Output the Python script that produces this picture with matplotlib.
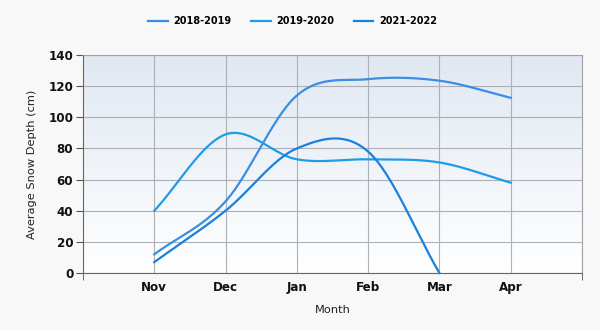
import numpy as np
import matplotlib
matplotlib.use('Agg')
import matplotlib.pyplot as plt
from matplotlib.colors import LinearSegmentedColormap

months = ['Nov', 'Dec', 'Jan', 'Feb', 'Mar', 'Apr']
seasons = ['2018-2019', '2019-2020', '2021-2022']
depth_1819 = [12, 46, 114, 124.5, 123.5, 112.5]
depth_1920 = [40, 89, 73, 73, 71, 58]
depth_2122 = [7, 40, 80, 78, 0, None]
colors = ['#3a8ee3', '#1e9de6', '#1a80dc']


def spline(xs, ys, n=40):
    """ catmull-rom through the points, returns dense x, y """
    pts = [(x, y) for x, y in zip(xs, ys) if y is not None]
    px = np.array([p[0] for p in pts], dtype=float)
    py = np.array([p[1] for p in pts], dtype=float)
    out_x, out_y = [], []
    for i in range(len(px) - 1):
        y0 = py[i - 1] if i > 0 else py[i]
        y3 = py[i + 2] if i + 2 < len(py) else py[i + 1]
        y1, y2 = py[i], py[i + 1]
        m1 = (y2 - y0) / 2 if i > 0 else (y2 - y1)
        m2 = (y3 - y1) / 2 if i + 2 < len(py) else (y2 - y1)
        t = np.linspace(0, 1, n)
        h00 = 2 * t**3 - 3 * t**2 + 1
        h10 = t**3 - 2 * t**2 + t
        h01 = -2 * t**3 + 3 * t**2
        h11 = t**3 - t**2
        out_x.extend(px[i] + t * (px[i + 1] - px[i]))
        out_y.extend(h00 * y1 + h10 * m1 + h01 * y2 + h11 * m2)
    return np.array(out_x), np.array(out_y)


fig = plt.figure(figsize=(6, 3.3), dpi=100, facecolor='#f8f8f8')
ax = fig.add_axes([0.1383, 0.1727, 0.8317, 0.6606])

# gradient background
cmap = LinearSegmentedColormap.from_list('bg', ['#ffffff', '#e0e8f2'])
grad = np.linspace(0, 1, 256).reshape(-1, 1)
ax.imshow(grad, aspect='auto', cmap=cmap, origin='lower',
          extent=[0, 1, 0, 1], transform=ax.transAxes, zorder=0)

x = np.arange(len(months))
for name, vals, cl in zip(seasons, [depth_1819, depth_1920, depth_2122], colors):
    sx, sy = spline(x, vals)
    ax.plot(sx, sy, color=cl, linewidth=1.6, label=name, zorder=3, clip_on=False)

ax.set_xlim(-1, 6)
ax.set_ylim(0, 140)
ax.set_xticks(x)
ax.set_xticklabels(months)
ax.set_xticks([-1, 6], minor=True)
ax.set_yticks(range(0, 141, 20))
ax.tick_params(axis='x', which='major', length=0, pad=6, labelsize=8.6)
ax.tick_params(axis='x', which='minor', length=5, color='#555555')
ax.tick_params(axis='y', length=5, color='#555555', labelsize=8.6, pad=2)
for lab in ax.get_xticklabels() + ax.get_yticklabels():
    lab.set_fontweight('bold')
    lab.set_color('#111111')

ax.grid(True, color='#adb0b6', linewidth=0.8, zorder=1)
ax.set_axisbelow(True)
for s in ['top', 'right']:
    ax.spines[s].set_color('#a0a0a8')
for s in ['left', 'bottom']:
    ax.spines[s].set_color('#666666')

ax.set_xlabel('Month', fontsize=8.2, color='#222222', labelpad=8)
ax.set_ylabel('Average Snow Depth (cm)', fontsize=8.2, color='#222222', labelpad=8)

fig.legend(loc='center', bbox_to_anchor=(0.488, 0.935), ncol=3, frameon=False,
           prop={'size': 7, 'weight': 'bold'}, handlelength=2.0, columnspacing=2.0,
           handletextpad=0.6)

fig.savefig('out.png', dpi=100, facecolor=fig.get_facecolor())
